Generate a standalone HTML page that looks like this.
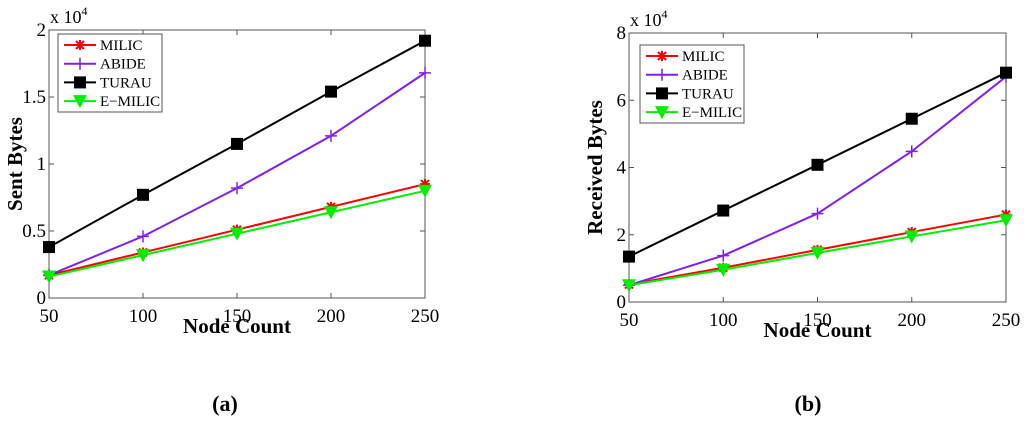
<!DOCTYPE html>
<html><head><meta charset="utf-8"><style>
body{margin:0;background:#fff;width:1024px;height:417px;overflow:hidden}
svg text{font-family:"Liberation Serif",serif}
</style></head><body>
<svg id="s" width="1024" height="417">
<text x="225" y="411" font-size="22" font-weight="bold" text-anchor="middle">(a)</text>
<text x="808" y="411" font-size="22" font-weight="bold" text-anchor="middle">(b)</text>
</svg>
<script>
const xCats=[50,100,150,200,250];
const seriesNames=["MILIC","ABIDE","TURAU","E\u2212MILIC"];
const colors=["#ff0000","#8020e8","#000000","#00ee00"];
const markers=["star","plus","square","tri"];
const sentMilic=[0.17,0.34,0.51,0.68,0.85];
const sentAbide=[0.17,0.46,0.82,1.21,1.68];
const sentTurau=[0.38,0.77,1.15,1.54,1.92];
const sentEmilic=[0.16,0.32,0.48,0.64,0.80];
const recvMilic=[0.52,1.02,1.55,2.08,2.6];
const recvAbide=[0.5,1.38,2.63,4.48,6.7];
const recvTurau=[1.35,2.72,4.08,5.45,6.82];
const recvEmilic=[0.5,0.96,1.46,1.95,2.43];
const sentTicks=["0","0.5","1","1.5","2"];
const sentTickVals=[0,0.5,1,1.5,2];
const recvTicks=["0","2","4","6","8"];
const recvTickVals=[0,2,4,6,8];
const NS="http://www.w3.org/2000/svg";
const svg=document.getElementById('s');
function mk(t,a,p){const e=document.createElementNS(NS,t);for(const k in a)e.setAttribute(k,a[k]);(p||svg).appendChild(e);return e;}
function marker(g,type,x,y,c){
 if(type==="square"){return mk('rect',{x:x-6,y:y-6,width:12,height:12,fill:c},g);}
 if(type==="tri"){return mk('polygon',{points:`${x-7},${y-6} ${x+7},${y-6} ${x},${y+7}`,fill:c},g);}
 if(type==="plus"){return mk('path',{d:`M${x-6} ${y}H${x+6}M${x} ${y-6}V${y+6}`,stroke:c,'stroke-width':1.5},g);}
 return mk('path',{d:`M${x-5} ${y}H${x+5}M${x} ${y-5}V${y+5}M${x-4} ${y-4}L${x+4} ${y+4}M${x-4} ${y+4}L${x+4} ${y-4}`,stroke:c,'stroke-width':2},g);
}
function chart(id,L,R,T,B,ymax,tickVals,tickLabels,data,ylab,leg){
 const g=mk('g',{});
 
 
 const xs=v=>L+(v-50)/200*(R-L), ys=v=>B-v/ymax*(B-T);
 mk('rect',{x:L,y:T,width:R-L,height:B-T,fill:'none',stroke:'#555','stroke-width':1},g);
 xCats.forEach(v=>{const x=xs(v);mk('path',{d:`M${x} ${B}v-5M${x} ${T}v5`,stroke:'#555'},g);
  const t=mk('text',{x:x,y:B+24,'font-size':19,'text-anchor':'middle'},g);t.textContent=v;
  
  });
 tickVals.forEach((v,i)=>{const y=ys(v);mk('path',{d:`M${L} ${y}h5M${R} ${y}h-5`,stroke:'#555'},g);
  const t=mk('text',{x:L-3,y:y+6,'font-size':19,'text-anchor':'end'},g);t.textContent=tickLabels[i];
  
  });
 const ex=mk('text',{x:L+1,y:T-7,'font-size':18},g);ex.innerHTML='x 10<tspan dy="-8" font-size="12">4</tspan>';
 
 
 const xl=mk('text',{x:(L+R)/2,y:B+35,'font-size':21,'font-weight':'bold','text-anchor':'middle'},g);xl.textContent='Node Count';
 
 
 const cy=(T+B)/2;
 const yl=mk('text',{x:L-27,y:cy,'font-size':21,'font-weight':'bold','text-anchor':'middle',transform:`rotate(-90 ${L-27} ${cy})`},g);yl.textContent=ylab;
 
 
 data.forEach((d,si)=>{
  const sg=mk('g',{},g);
  
  
  mk('polyline',{points:d.map((v,i)=>xs(xCats[i])+','+ys(v)).join(' '),fill:'none',stroke:colors[si],'stroke-width':2},sg);
  d.forEach((v,i)=>marker(sg,markers[si],xs(xCats[i]),ys(v),colors[si]));
 });
 const lg=mk('g',{},g);
 
 
 mk('rect',{x:leg[0],y:leg[1],width:104,height:78,fill:'#fff',stroke:'#555'},lg);
 seriesNames.forEach((n,i)=>{const y=leg[1]+11+i*18.7;
  mk('line',{x1:leg[0]+6,x2:leg[0]+38,y1:y,y2:y,stroke:colors[i],'stroke-width':2},lg);
  marker(lg,markers[i],leg[0]+22,y,colors[i]);
  const t=mk('text',{x:leg[0]+42,y:y+5,'font-size':15},lg);t.textContent=n;
  
  });
}
chart('chart-sent-bytes',49,425,30,298,2,sentTickVals,sentTicks,[sentMilic,sentAbide,sentTurau,sentEmilic],'Sent Bytes',[58,34]);
chart('chart-received-bytes',629,1006,33,302,8,recvTickVals,recvTicks,[recvMilic,recvAbide,recvTurau,recvEmilic],'Received Bytes',[640,45]);
</script>
</body></html>
